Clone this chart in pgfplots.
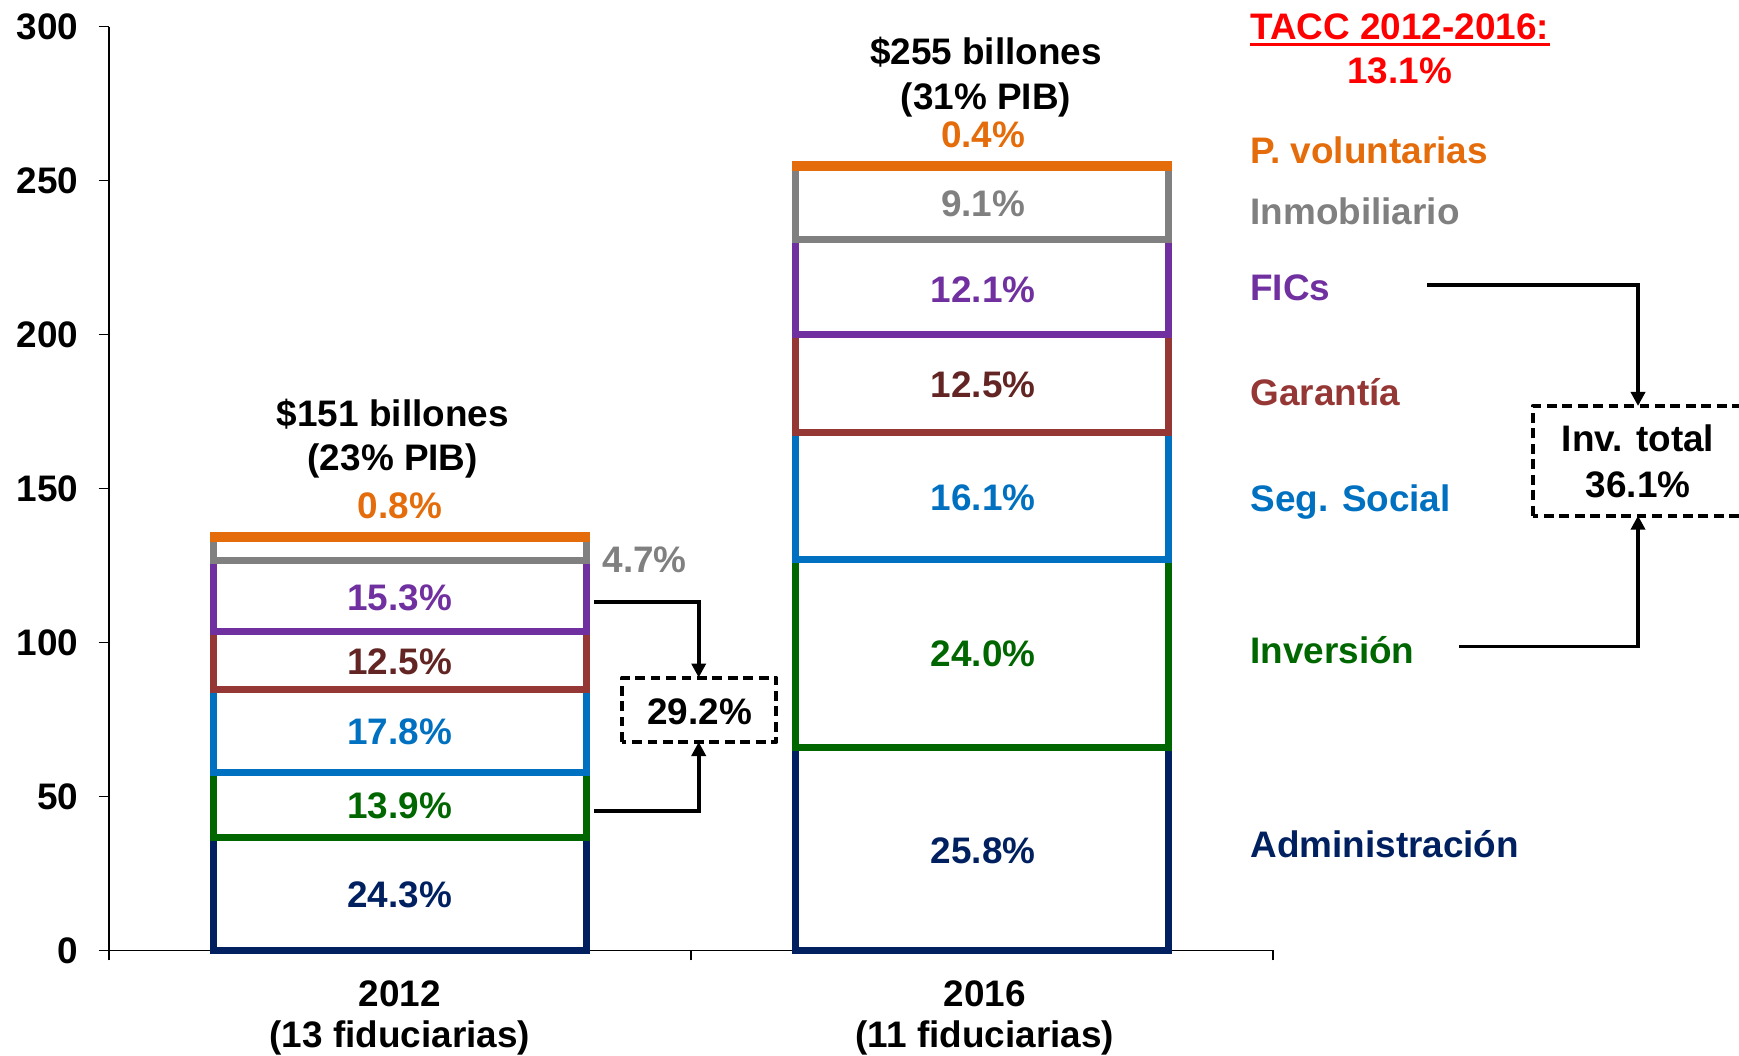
\documentclass[border=0pt]{standalone}
\usepackage{fontspec}
\setmainfont{Liberation Sans}
\usepackage{pgfplots}
\pgfplotsset{compat=1.18}
\usetikzlibrary{arrows.meta}
\definecolor{cnavy}{RGB}{0,32,96}
\definecolor{cgreen}{RGB}{0,102,0}
\definecolor{cblue}{RGB}{0,112,192}
\definecolor{cbrown}{RGB}{149,55,53}
\definecolor{cbrowntxt}{RGB}{99,37,35}
\definecolor{cpurple}{RGB}{112,48,160}
\definecolor{cgray}{RGB}{128,128,128}
\definecolor{corange}{RGB}{228,108,10}
\definecolor{cred}{RGB}{255,0,0}
\begin{document}
\begin{tikzpicture}[font=\fontsize{10.5}{12.6}\selectfont\bfseries,
  lbl/.style={inner sep=0pt, text height=0.716em, text depth=0pt},
  arr/.style={line width=1.1pt, -{Triangle[width=4pt,length=4pt]}},
  dbox/.style={line width=1.15pt, line join=round, dash pattern=on 2.8pt off 1.6pt}]
\useasboundingbox (0,0) rectangle (173.9mm,105.5mm);
\begin{axis}[
  at={(10.87mm,10.46mm)}, anchor=south west, scale only axis,
  width=116.43mm, height=92.38mm,
  xmin=-0.5, xmax=1.5, ymin=0, ymax=300,
  axis x line*=bottom, axis y line*=left,
  axis line style={line width=0.5pt},
  ybar stacked, reverse stacked plots=false, bar width=0.64,
  xtick={-0.5,0.5,1.5}, xticklabels={},
  ytick={0,50,100,150,200,250,300},
  tick align=outside, major tick length=1mm,
  tick style={line width=0.5pt, black},
  /pgf/number format/assume math mode=true,
  tick label style={font=\fontsize{10.5}{12.6}\selectfont\bfseries},
  yticklabel style={xshift=-0.8mm},
  clip=false,
  bseg/.style={draw=#1, fill=none, line width=2pt},
]
\addplot[bseg=cnavy] coordinates {(0,36.7) (1,65.8)};
\addplot[bseg=cgreen] coordinates {(0,21.0) (1,61.2)};
\addplot[bseg=cblue] coordinates {(0,26.9) (1,41.1)};
\addplot[bseg=cbrown] coordinates {(0,18.9) (1,31.9)};
\addplot[bseg=cpurple] coordinates {(0,23.1) (1,30.9)};
\addplot[bseg=cgray] coordinates {(0,7.1) (1,23.2)};
\addplot[bseg=corange] coordinates {(0,1.2) (1,1.0)};

% segment labels 2012
\node[lbl, text=cnavy] at (axis cs:0,18.0) {24.3\%};
\node[lbl, text=cgreen] at (axis cs:0,46.8) {13.9\%};
\node[lbl, text=cblue] at (axis cs:0,71.0) {17.8\%};
\node[lbl, text=cbrowntxt] at (axis cs:0,93.6) {12.5\%};
\node[lbl, text=cpurple] at (axis cs:0,114.5) {15.3\%};
\node[lbl, text=cgray, anchor=west] at (axis cs:0.347,126.8) {4.7\%};
\node[lbl, text=corange] at (axis cs:0,144.4) {0.8\%};
\node[lbl] at (axis cs:-0.012,174.3) {\$151 billones};
\node[lbl] at (axis cs:-0.012,159.9) {(23\% PIB)};
% segment labels 2016
\node[lbl, text=cnavy] at (axis cs:1.002,32.4) {25.8\%};
\node[lbl, text=cgreen] at (axis cs:1.002,96.2) {24.0\%};
\node[lbl, text=cblue] at (axis cs:1.002,146.9) {16.1\%};
\node[lbl, text=cbrowntxt] at (axis cs:1.002,183.7) {12.5\%};
\node[lbl, text=cpurple] at (axis cs:1.002,214.6) {12.1\%};
\node[lbl, text=cgray] at (axis cs:1.002,242.4) {9.1\%};
\node[lbl, text=corange] at (axis cs:1.002,264.7) {0.4\%};
\node[lbl] at (axis cs:1.007,291.7) {\$255 billones};
\node[lbl] at (axis cs:1.007,277.3) {(31\% PIB)};
% x labels
\node[lbl] at (axis cs:0,-14.06) {2012};
\node[lbl] at (axis cs:0,-27.4) {(13 fiduciarias)};
\node[lbl] at (axis cs:1.005,-14.06) {2016};
\node[lbl] at (axis cs:1.005,-27.4) {(11 fiduciarias)};
% category names
\node[lbl, anchor=west, text=corange] at (axis cs:1.460,259.7) {P. voluntarias};
\node[lbl, anchor=west, text=cgray] at (axis cs:1.460,239.9) {Inmobiliario};
\node[lbl, anchor=west, text=cpurple] at (axis cs:1.460,215.0) {FICs};
\node[lbl, anchor=west, text=cbrown] at (axis cs:1.460,181.1) {Garantía};
\node[lbl, anchor=west, text=cblue] at (axis cs:1.460,146.6) {Seg. Social};
\node[lbl, anchor=west, text=cgreen] at (axis cs:1.460,97.2) {Inversión};
\node[lbl, anchor=west, text=cnavy] at (axis cs:1.460,34.2) {Administración};
% TACC
\node[lbl, text=cred] (tacc) at (axis cs:1.7175,300) {TACC 2012-2016:};
\node[lbl, text=cred] at (axis cs:1.7175,285.6) {13.1\%};
% 29.2% box
\draw[dbox] (axis cs:0.382,67.7) rectangle (axis cs:0.647,88.6);
\node[lbl] at (axis cs:0.515,77.4) {29.2\%};
\draw[arr] (axis cs:0.334,113.2) -| (axis cs:0.5135,88.6);
\draw[arr] (axis cs:0.334,45.4) -| (axis cs:0.5135,67.7);
% Inv total box
\draw[dbox] (axis cs:1.946,141.2) rectangle (axis cs:2.40,176.8);
\node[lbl] at (axis cs:2.127,166.0) {Inv. total};
\node[lbl] at (axis cs:2.127,151.3) {36.1\%};
\draw[arr] (axis cs:1.765,216.1) -| (axis cs:2.127,176.8);
\draw[arr] (axis cs:1.820,98.7) -| (axis cs:2.127,141.2);
\end{axis}
\draw[cred, line width=0.95pt] ([yshift=-1.3pt]tacc.south west) -- ([yshift=-1.3pt]tacc.south east);
\end{tikzpicture}
\end{document}
